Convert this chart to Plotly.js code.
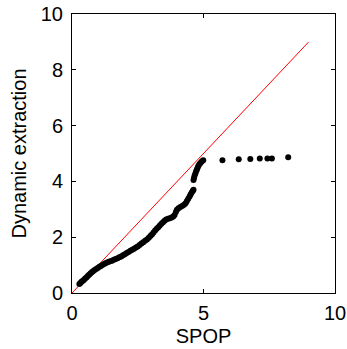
<!DOCTYPE html>
<html>
<head>
<meta charset="utf-8">
<script src="https://cdn.plot.ly/plotly-3.0.1.min.js"></script>
<style>html,body{margin:0;padding:0;background:#fff;}#chart{width:347px;height:349px;}</style>
</head>
<body>
<div id="chart"></div>
<script>
// Quantile pairs (SPOP vs Dynamic extraction)
const spop = [
  0.28, 0.32, 0.36, 0.40, 0.45, 0.50, 0.55, 0.60, 0.65, 0.70,
  0.75, 0.80, 0.86, 0.92, 0.98, 1.04, 1.10, 1.17, 1.24, 1.31,
  1.38, 1.45, 1.52, 1.59, 1.66, 1.73, 1.80, 1.87, 1.94, 2.01,
  2.08, 2.15, 2.22, 2.29, 2.36, 2.43, 2.50, 2.57, 2.64, 2.71,
  2.78, 2.85, 2.92, 2.98, 3.04, 3.10, 3.16, 3.22, 3.28, 3.34,
  3.40, 3.46, 3.52, 3.58, 3.65, 3.72, 3.79, 3.85, 3.90, 3.95,
  3.99, 4.05, 4.12, 4.19, 4.26, 4.32, 4.37, 4.42, 4.47, 4.51,
  4.55, 4.59, 4.62,
  4.62, 4.64, 4.66, 4.69, 4.72, 4.75, 4.78, 4.81, 4.85, 4.89, 4.94, 4.99,
  5.72, 6.34, 6.78, 7.14, 7.43, 7.60, 8.22
];
const dynext = [
  0.32, 0.36, 0.40, 0.43, 0.47, 0.52, 0.56, 0.61, 0.65, 0.70,
  0.74, 0.78, 0.82, 0.86, 0.90, 0.94, 0.97, 1.01, 1.05, 1.08,
  1.11, 1.14, 1.16, 1.19, 1.22, 1.25, 1.28, 1.31, 1.35, 1.39,
  1.43, 1.47, 1.51, 1.55, 1.59, 1.63, 1.67, 1.72, 1.77, 1.82,
  1.87, 1.92, 1.98, 2.04, 2.10, 2.17, 2.24, 2.30, 2.36, 2.42,
  2.48, 2.54, 2.59, 2.63, 2.66, 2.68, 2.71, 2.74, 2.80, 2.90,
  2.98, 3.04, 3.08, 3.12, 3.16, 3.22, 3.30, 3.38, 3.46, 3.53,
  3.60, 3.66, 3.70,
  4.05, 4.12, 4.20, 4.28, 4.36, 4.43, 4.50, 4.56, 4.62, 4.67, 4.72, 4.76,
  4.76, 4.79, 4.80, 4.82, 4.82, 4.82, 4.87
];
const refX = [0, 9];
const refY = [0, 9];
const xTicks = [0, 5, 10];
const yTicks = [0, 2, 4, 6, 8, 10];

const font = {family: '"Liberation Sans", Arial, sans-serif', size: 20, color: '#000'};

Plotly.newPlot('chart', [
  {x: refX, y: refY, type: 'scatter', mode: 'lines',
   line: {color: '#ff0000', width: 1}, hoverinfo: 'skip'},
  {x: spop, y: dynext, type: 'scatter', mode: 'markers',
   marker: {color: '#000', size: 6}}
], {
  width: 347, height: 349,
  margin: {l: 72, r: 12, t: 14, b: 56},
  paper_bgcolor: '#fff', plot_bgcolor: '#fff',
  showlegend: false,
  font: font,
  xaxis: {
    range: [0, 10], tickvals: xTicks, ticktext: xTicks.map(String),
    ticks: 'inside', ticklen: 4, tickcolor: '#000', tickwidth: 1,
    showline: true, linecolor: '#000', linewidth: 1, mirror: 'ticks',
    showgrid: false, zeroline: false, tickfont: font, ticklabelstandoff: 2,
    title: {text: 'SPOP', font: font, standoff: 5}
  },
  yaxis: {
    range: [0, 10], tickvals: yTicks, ticktext: yTicks.map(String),
    ticks: 'inside', ticklen: 4, tickcolor: '#000', tickwidth: 1,
    showline: true, linecolor: '#000', linewidth: 1, mirror: 'ticks',
    showgrid: false, zeroline: false, tickfont: font, ticklabelstandoff: 4,
    title: {text: 'Dynamic extraction', font: font, standoff: 8}
  }
}, {staticPlot: true});
</script>
</body>
</html>
